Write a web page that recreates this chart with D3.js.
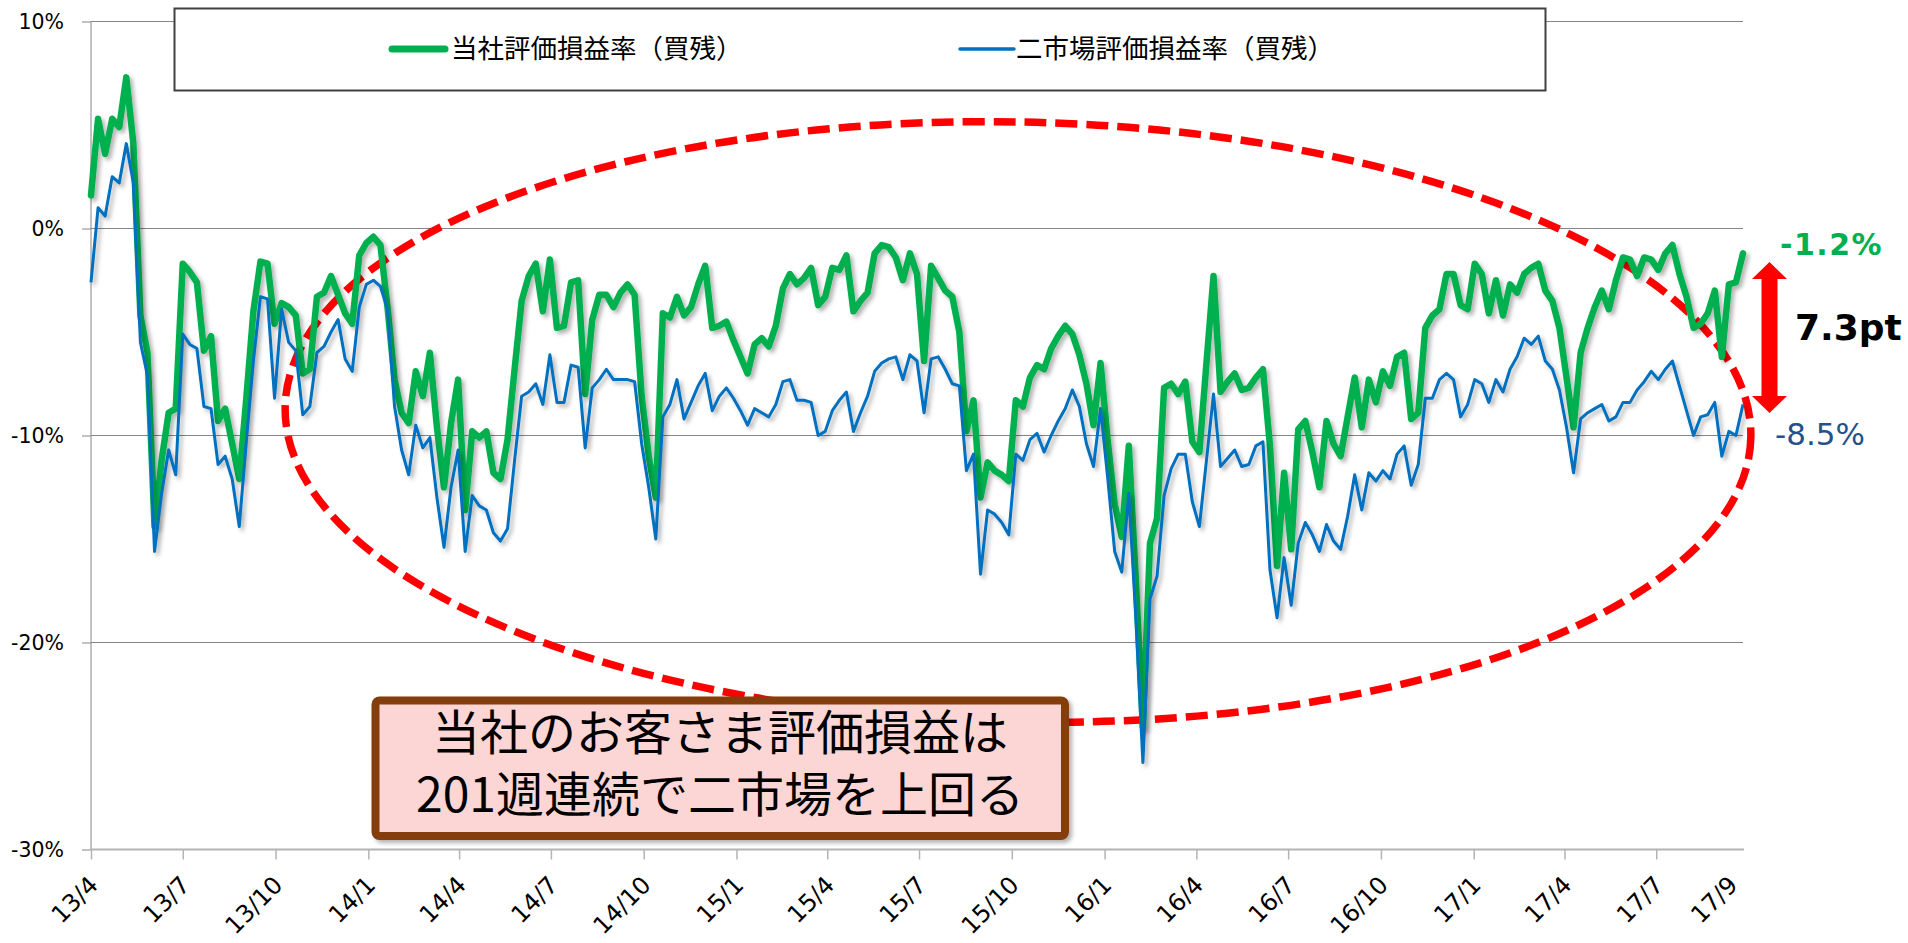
<!DOCTYPE html>
<html>
<head>
<meta charset="utf-8">
<script src="https://cdn.jsdelivr.net/npm/d3@7"></script>
<style>
  body { margin: 0; background: #fff; }
  svg { display: block; }
</style>
</head>
<body>
<svg width="1908" height="943"></svg>
<script>
// weekly points, first week = 2013/4/5
var startDate = new Date(2013, 3, 5);

// 当社評価損益率（買残） %
var companyRate = [
  1.6, 5.3, 3.6, 5.3, 4.9, 7.3, 4.1, -4.2, -6.0, -14.4,
  -11.2, -8.9, -8.7, -1.7, -2.1, -2.6, -5.9, -5.2, -9.3, -8.7,
  -10.4, -12.1, -8.2, -4.0, -1.6, -1.7, -4.6, -3.6, -3.8, -4.2,
  -7.0, -6.8, -3.3, -3.1, -2.3, -3.2, -4.1, -4.6, -1.3, -0.7,
  -0.4, -0.8, -3.8, -7.3, -8.9, -9.4, -6.9, -8.1, -6.0, -9.6,
  -12.5, -9.4, -7.3, -13.6, -9.8, -10.1, -9.8, -11.8, -12.1, -10.2,
  -6.8, -3.5, -2.3, -1.7, -4.0, -1.5, -4.8, -4.7, -2.6, -2.5,
  -8.0, -4.4, -3.2, -3.2, -3.8, -3.1, -2.7, -3.2, -8.1, -11.0,
  -13.0, -4.1, -4.3, -3.3, -4.2, -3.8, -2.7, -1.8, -4.8, -4.7,
  -4.5, -5.4, -6.2, -7.0, -5.6, -5.3, -5.7, -4.7, -2.9, -2.2,
  -2.7, -2.4, -1.9, -3.7, -3.3, -1.9, -2.0, -1.3, -4.0, -3.5,
  -3.1, -1.2, -0.8, -0.9, -1.4, -2.5, -1.2, -2.2, -6.4, -1.8,
  -2.4, -3.0, -3.3, -5.0, -9.8, -8.3, -13.0, -11.3, -11.7, -11.9,
  -12.2, -8.3, -8.6, -7.2, -6.6, -6.8, -5.8, -5.2, -4.7, -5.1,
  -6.1, -7.5, -9.5, -6.5, -10.2, -13.3, -14.9, -10.5, -17.0, -24.1,
  -15.2, -14.0, -7.7, -7.5, -8.0, -7.4, -10.3, -10.8, -6.5, -2.3,
  -7.9, -7.4, -7.0, -7.8, -7.7, -7.2, -6.8, -10.5, -16.3, -11.8,
  -15.5, -9.7, -9.3, -10.8, -12.5, -9.3, -10.4, -11.0, -9.1, -7.2,
  -9.6, -7.3, -8.4, -6.9, -7.6, -6.2, -6.0, -9.2, -8.9, -4.8,
  -4.2, -3.9, -2.2, -2.2, -3.7, -3.9, -1.7, -2.2, -4.1, -2.5,
  -4.2, -2.7, -3.1, -2.2, -1.9, -1.7, -3.0, -3.5, -4.8, -7.2,
  -9.6, -6.0, -4.8, -3.8, -3.0, -3.9, -2.5, -1.4, -1.5, -2.3,
  -1.4, -1.5, -2.0, -1.2, -0.8, -2.2, -3.3, -4.8, -4.6, -4.1,
  -3.0, -6.2, -2.7, -2.6, -1.2
];

// 二市場評価損益率（買残） %
var marketRate = [
  -2.6, 1.0, 0.6, 2.5, 2.2, 4.1, 2.2, -5.5, -7.1, -15.6,
  -12.8, -10.7, -11.9, -5.1, -5.6, -5.8, -8.6, -8.7, -11.4, -11.0,
  -12.1, -14.4, -10.3, -6.4, -3.3, -3.4, -8.2, -3.9, -5.5, -5.9,
  -9.0, -8.6, -6.0, -5.7, -5.0, -4.4, -6.3, -6.9, -3.8, -2.7,
  -2.5, -2.8, -3.9, -8.6, -10.7, -11.9, -9.5, -10.6, -10.1, -13.0,
  -15.4, -12.5, -10.7, -15.6, -12.9, -13.4, -13.6, -14.7, -15.1, -14.5,
  -11.2, -8.1, -7.9, -7.5, -8.5, -6.1, -8.4, -8.4, -6.6, -6.7,
  -10.6, -7.7, -7.3, -6.8, -7.3, -7.3, -7.3, -7.4, -10.4, -12.5,
  -15.0, -9.1, -8.5, -7.3, -9.2, -8.4, -7.6, -7.0, -8.8, -8.1,
  -7.7, -8.2, -8.8, -9.5, -8.7, -8.9, -9.1, -8.5, -7.4, -7.3,
  -8.3, -8.3, -8.4, -10.0, -9.8, -8.8, -8.3, -7.9, -9.8, -8.9,
  -8.1, -6.9, -6.5, -6.3, -6.2, -7.3, -6.1, -6.4, -8.9, -6.3,
  -6.2, -6.8, -7.5, -7.6, -11.7, -10.9, -16.7, -13.6, -13.8, -14.2,
  -14.8, -10.9, -11.2, -10.2, -9.9, -10.8, -10.0, -9.3, -8.7, -7.8,
  -8.6, -10.4, -11.5, -8.7, -12.0, -15.6, -16.6, -12.8, -18.8, -25.8,
  -17.9, -16.8, -12.9, -11.6, -10.9, -10.9, -13.2, -14.4, -11.2, -8.0,
  -11.5, -11.1, -10.7, -11.5, -11.4, -10.5, -10.3, -16.5, -18.8, -15.9,
  -18.2, -15.2, -14.2, -14.8, -15.6, -14.3, -15.1, -15.5, -13.9, -11.9,
  -13.6, -11.8, -12.2, -11.7, -12.1, -10.9, -10.5, -12.4, -11.4, -8.2,
  -8.2, -7.3, -7.0, -7.3, -9.1, -8.5, -7.3, -7.5, -8.4, -7.3,
  -7.9, -6.8, -6.2, -5.3, -5.6, -5.2, -6.4, -6.8, -7.8, -9.6,
  -11.8, -9.2, -8.9, -8.7, -8.5, -9.3, -9.1, -8.4, -8.4, -7.8,
  -7.4, -6.9, -7.3, -6.8, -6.4, -7.6, -8.8, -10.0, -9.1, -9.0,
  -8.4, -11.0, -9.8, -10.0, -8.5
];

var tickLabels = ["13/4", "13/7", "13/10", "14/1", "14/4", "14/7", "14/10", "15/1", "15/4",
                  "15/7", "15/10", "16/1", "16/4", "16/7", "16/10", "17/1", "17/4", "17/7"];
var lastLabel = "17/9";
var yTicks = [10, 0, -10, -20, -30];
var legendNames = ["当社評価損益率（買残）", "二市場評価損益率（買残）"];
var noteLines = ["当社のお客さま評価損益は", "201週連続で二市場を上回る"];

var svg = d3.select("svg");
var numFont = "'DejaVu Sans', Verdana, sans-serif";
var jpFont = "'Noto Sans CJK JP', sans-serif";

var data = companyRate.map(function(v, i) {
  return { date: d3.timeDay.offset(startDate, 7 * i), company: v, market: marketRate[i] };
});
var endDate = data[data.length - 1].date;

// scales
var x = d3.scaleTime().domain([startDate, endDate]).range([91, 1743]);
var y = d3.scaleLinear().domain([-30, 10]).range([849.5, 21.5]);

// drop shadow for lines / box
var defs = svg.append("defs");
defs.append("filter").attr("id", "shadow")
    .attr("x", "-5%").attr("y", "-5%").attr("width", "115%").attr("height", "120%")
  .append("feDropShadow")
    .attr("dx", 3).attr("dy", 3).attr("stdDeviation", 2)
    .attr("flood-color", "#000").attr("flood-opacity", 0.3);

// gridlines
svg.append("g").selectAll("line")
  .data(yTicks.filter(function(d) { return d > -30; }))
  .enter().append("line")
    .attr("x1", 91).attr("x2", 1743)
    .attr("y1", function(d) { return y(d); })
    .attr("y2", function(d) { return y(d); })
    .attr("stroke", "#868686").attr("stroke-width", 1);

// y axis
var yAxis = svg.append("g")
    .attr("transform", "translate(91,0)")
    .call(d3.axisLeft(y).tickValues(yTicks).tickSize(9).tickFormat(function(d) { return d + "%"; }));
yAxis.select(".domain").attr("stroke", "#868686").attr("d", "M0," + y(10) + "V" + y(-30));
yAxis.selectAll(".tick line").attr("stroke", "#868686");
yAxis.selectAll(".tick text")
    .attr("x", -27).attr("dy", "0.35em")
    .style("font-family", numFont).style("font-size", "20.5px").attr("fill", "#000");

// x axis
var tickDates = tickLabels.map(function(d, k) { return d3.timeMonth.offset(startDate, 3 * k); });
var xAxis = svg.append("g")
    .attr("transform", "translate(0," + y(-30) + ")")
    .call(d3.axisBottom(x).tickValues(tickDates).tickSize(10).tickFormat(function(d, k) { return tickLabels[k]; }));
xAxis.select(".domain").attr("stroke", "#b4b4b4").attr("stroke-width", 2).attr("d", "M91,0H1744");
xAxis.selectAll(".tick line").attr("stroke", "#b4b4b4").attr("stroke-width", 1.5);
xAxis.selectAll(".tick text")
    .attr("y", 0).attr("dy", 0)
    .attr("text-anchor", "end")
    .attr("transform", "translate(8,37) rotate(-45)")
    .style("font-family", numFont).style("font-size", "24px").attr("fill", "#000");
xAxis.append("text")
    .attr("transform", "translate(" + (x(endDate) - 4) + ",37) rotate(-45)")
    .attr("text-anchor", "end")
    .style("font-family", numFont).style("font-size", "24px").attr("fill", "#000")
    .text(lastLabel);

// red dashed ellipse
svg.append("ellipse")
    .attr("cx", 1018).attr("cy", 422).attr("rx", 733).attr("ry", 300)
    .attr("transform", "rotate(1.2,1018,422)")
    .attr("fill", "none").attr("stroke", "#ff0000")
    .attr("stroke-width", 7.5).attr("stroke-dasharray", "22 9");

// lines
var companyLine = d3.line()
    .x(function(d) { return x(d.date); })
    .y(function(d) { return y(d.company); });
var marketLine = d3.line()
    .x(function(d) { return x(d.date); })
    .y(function(d) { return y(d.market); });

svg.append("path").datum(data)
    .attr("d", companyLine)
    .attr("fill", "none").attr("stroke", "#00b050").attr("stroke-width", 6.5)
    .attr("stroke-linejoin", "round").attr("stroke-linecap", "round")
    .attr("filter", "url(#shadow)");

svg.append("path").datum(data)
    .attr("d", marketLine)
    .attr("fill", "none").attr("stroke", "#0070c0").attr("stroke-width", 3)
    .attr("stroke-linejoin", "round")
    .attr("filter", "url(#shadow)");

// legend
var legend = svg.append("g");
legend.append("rect")
    .attr("x", 174.5).attr("y", 8.5).attr("width", 1371).attr("height", 82)
    .attr("fill", "#fff").attr("stroke", "#404040").attr("stroke-width", 2);
var legendItems = [
  { name: legendNames[0], color: "#00b050", width: 7, x1: 392, x2: 445, tx: 451 },
  { name: legendNames[1], color: "#0070c0", width: 3.5, x1: 960, x2: 1014, tx: 1016 }
];
legendItems.forEach(function(d) {
  legend.append("line")
      .attr("x1", d.x1).attr("x2", d.x2).attr("y1", 49).attr("y2", 49)
      .attr("stroke", d.color).attr("stroke-width", d.width).attr("stroke-linecap", "round");
  legend.append("text")
      .attr("x", d.tx).attr("y", 49).attr("dy", "0.35em")
      .style("font-family", jpFont).style("font-size", "26.5px")
      .text(d.name);
});

// note box
var note = svg.append("g");
note.append("rect")
    .attr("x", 375.5).attr("y", 700.5).attr("width", 689.5).attr("height", 135.5).attr("rx", 4)
    .attr("fill", "#fcd5d5").attr("stroke", "#843c0c").attr("stroke-width", 8)
    .attr("filter", "url(#shadow)");
var noteText = note.append("text")
    .attr("text-anchor", "middle")
    .style("font-family", jpFont).style("font-size", "48px");
noteText.selectAll("tspan")
  .data(noteLines)
  .enter().append("tspan")
    .attr("x", 720)
    .attr("y", function(d, i) { return 750 + i * 62; })
    .text(function(d) { return d; });

// end values and gap
var lastCompany = companyRate[companyRate.length - 1];
var lastMarket = marketRate[marketRate.length - 1];
svg.append("text")
    .attr("x", 1780).attr("y", 255)
    .style("font-family", numFont).style("font-size", "30px").style("font-weight", "bold")
    .style("letter-spacing", "1.5px")
    .attr("fill", "#00b050")
    .text(lastCompany.toFixed(1) + "%");
svg.append("text")
    .attr("x", 1775).attr("y", 445)
    .style("font-family", numFont).style("font-size", "31px")
    .attr("fill", "#24508c")
    .text(lastMarket.toFixed(1) + "%");
svg.append("text")
    .attr("x", 1795).attr("y", 340)
    .style("font-family", numFont).style("font-size", "36px").style("font-weight", "bold")
    .attr("fill", "#000")
    .text((lastCompany - lastMarket).toFixed(1) + "pt");

// double arrow
svg.append("path")
    .attr("d", "M1769.5,262 L1787,279 L1777.5,279 L1777.5,396 L1787,396 L1769.5,413 L1752,396 L1761.5,396 L1761.5,279 L1752,279 Z")
    .attr("fill", "#ff0000");
</script>
</body>
</html>
